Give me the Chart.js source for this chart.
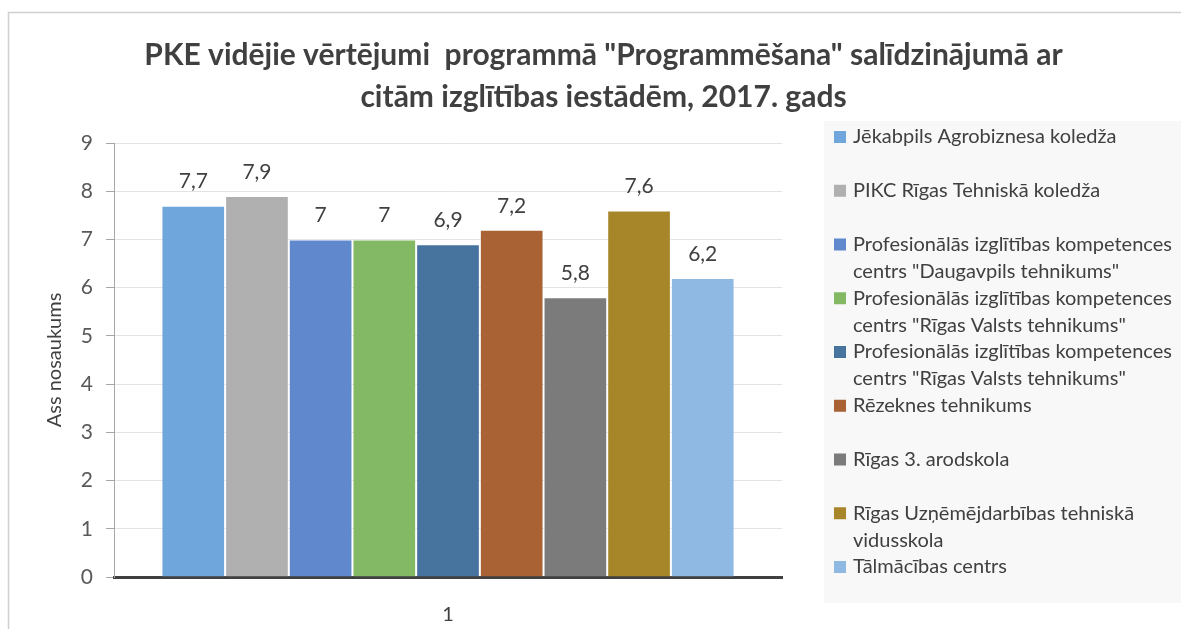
<!DOCTYPE html>
<html>
<head>
<meta charset="utf-8">
<script src="https://cdn.jsdelivr.net/npm/chart.js@4"></script>
<style>
  body { margin: 0; background: #fff; }
</style>
</head>
<body>
<canvas id="vertejumi" width="1181" height="629"></canvas>
<script>
const categories = ['1'];
const institutions = [
    'Jēkabpils Agrobiznesa koledža',
    'PIKC Rīgas Tehniskā koledža',
    'Profesionālās izglītības kompetences centrs "Daugavpils tehnikums"',
    'Profesionālās izglītības kompetences centrs "Rīgas Valsts tehnikums"',
    'Profesionālās izglītības kompetences centrs "Rīgas Valsts tehnikums"',
    'Rēzeknes tehnikums',
    'Rīgas 3. arodskola',
    'Rīgas Uzņēmējdarbības tehniskā vidusskola',
    'Tālmācības centrs'
];
const scores = [7.7, 7.9, 7, 7, 6.9, 7.2, 5.8, 7.6, 6.2];
const barColors = ['#6fa7dc', '#b0b0b0', '#6088cd', '#83b964', '#46749f', '#a96234', '#7b7b7b', '#a7862a', '#8fb9e2'];
const yMin = 0, yMax = 9, yStep = 1;

const textColor = '#404040';
const fontName = 'Lato, "Noto Sans", sans-serif';

// frame around the whole chart + legend box background
const framePlugin = {
    id: 'frame',
    beforeDraw(chart) {
        const c = chart.ctx;
        c.save();
        c.fillStyle = '#fff';
        c.fillRect(0, 0, chart.width, chart.height);
        c.strokeStyle = '#d0d0d0';
        c.lineWidth = 1.5;
        c.strokeRect(8.5, 12.5, chart.width + 20, chart.height + 20);
        c.fillStyle = '#f8f8f8';
        c.fillRect(824, 121, chart.width - 824, 482);
        c.restore();
    }
};

// value labels above the bars
const valueLabels = {
    id: 'valueLabels',
    afterDatasetsDraw(chart) {
        const c = chart.ctx;
        c.save();
        c.font = '21px ' + fontName;
        c.fillStyle = textColor;
        c.textAlign = 'center';
        c.textBaseline = 'middle';
        chart.data.datasets.forEach((ds, i) => {
            const bar = chart.getDatasetMeta(i).data[0];
            c.fillText(String(ds.data[0]).replace('.', ','), bar.x, bar.y - 24);
        });
        c.restore();
    }
};

function wrapText(c, text, maxW) {
    const words = text.split(' ');
    const lines = [];
    let cur = '';
    words.forEach(w => {
        const test = cur ? cur + ' ' + w : w;
        if (c.measureText(test).width > maxW && cur) {
            lines.push(cur);
            cur = w;
        } else {
            cur = test;
        }
    });
    lines.push(cur);
    return lines;
}

// legend on the right, Excel style with wrapped names
const sideLegend = {
    id: 'sideLegend',
    afterDraw(chart) {
        const c = chart.ctx;
        c.save();
        c.font = '20px ' + fontName;
        c.textBaseline = 'middle';
        chart.data.datasets.forEach((ds, i) => {
            const y = 137 + i * 53.75;
            c.fillStyle = ds.backgroundColor;
            c.fillRect(834, y - 6, 12, 12);
            c.fillStyle = textColor;
            wrapText(c, ds.label, 326).forEach((line, j) => {
                c.fillText(line, 853, y + j * 27);
            });
        });
        c.restore();
    }
};

const ctx = document.getElementById('vertejumi').getContext('2d');
const chart = new Chart(ctx, {
    type: 'bar',
    data: {
        labels: categories,
        datasets: institutions.map((name, i) => ({
            label: name,
            data: [scores[i]],
            backgroundColor: barColors[i],
            borderColor: 'rgba(255,255,255,0.45)',
            borderWidth: 1,
            categoryPercentage: 0.858,
            barPercentage: 1
        }))
    },
    options: {
        responsive: false,
        animation: false,
        layout: { padding: { left: 26, right: 0, top: 0, bottom: 0 } },
        plugins: {
            legend: { display: false },
            tooltip: { enabled: false },
            title: {
                display: true,
                text: ['PKE vidējie vērtējumi  programmā "Programmēšana" salīdzinājumā ar', 'citām izglītības iestādēm, 2017. gads'],
                color: textColor,
                font: { family: fontName, size: 30, weight: 'bold', lineHeight: 1.4 },
                padding: { top: 34, bottom: 25 }
            }
        },
        scales: {
            x: {
                grid: { display: false },
                border: { color: '#404040', width: 3 },
                ticks: { color: textColor, font: { family: fontName, size: 20 }, padding: 18 },
                afterFit(s) { s.height = 52; }
            },
            y: {
                min: yMin,
                max: yMax,
                ticks: { stepSize: yStep, color: '#595959', font: { family: fontName, size: 21 }, padding: 13 },
                grid: { color: '#e3e3e3', tickColor: '#a6a6a6', tickLength: 8 },
                border: { color: '#a6a6a6' },
                title: {
                    display: true,
                    text: 'Ass nosaukums',
                    color: textColor,
                    font: { family: fontName, size: 20 },
                    padding: { top: 17, bottom: 0 }
                },
                afterFit(s) { s.width = 88; }
            },
            // empty right axis that reserves room for the legend
            spacer: {
                type: 'linear',
                position: 'right',
                display: true,
                grid: { drawOnChartArea: false, drawTicks: false },
                border: { display: false },
                ticks: { display: false },
                afterFit(s) { s.width = 399; }
            }
        }
    },
    plugins: [framePlugin, valueLabels, sideLegend]
});
</script>
</body>
</html>
